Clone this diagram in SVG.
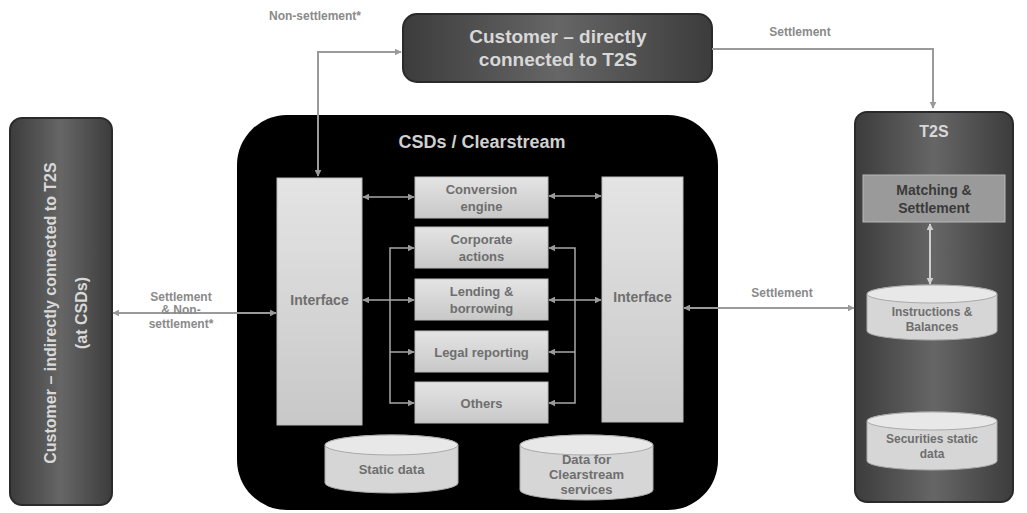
<svg xmlns="http://www.w3.org/2000/svg" width="1027" height="513" viewBox="0 0 1027 513">
<defs>
<linearGradient id="dark" x1="0" y1="0" x2="1" y2="0">
<stop offset="0" stop-color="#3c3c3c"/><stop offset="0.5" stop-color="#666"/><stop offset="1" stop-color="#3c3c3c"/>
</linearGradient>
<linearGradient id="light" x1="0" y1="0" x2="0" y2="1">
<stop offset="0" stop-color="#e4e4e4"/><stop offset="1" stop-color="#c8c8c8"/>
</linearGradient>
<marker id="ah" viewBox="0 0 10 10" refX="9" refY="5" markerWidth="7" markerHeight="7" orient="auto-start-reverse" markerUnits="userSpaceOnUse">
<path d="M0,0 L10,5 L0,10 Z" fill="#9a9a9a"/>
</marker>
<marker id="ahw" viewBox="0 0 10 10" refX="9" refY="5" markerWidth="7" markerHeight="7" orient="auto-start-reverse" markerUnits="userSpaceOnUse">
<path d="M0,0 L10,5 L0,10 Z" fill="#cfcfcf"/>
</marker>
</defs>
<style>
text{font-family:"Liberation Sans",Arial,sans-serif;font-weight:bold;text-anchor:middle}
.dk{fill:url(#dark);stroke:#2a2a2a;stroke-width:2}
.lt{fill:url(#light);stroke:#bbb;stroke-width:1}
.cyl{fill:#d6d6d6;stroke:#aaa;stroke-width:1}
.cyltop{fill:#e8e8e8;stroke:#aaa;stroke-width:1}
.wt{fill:#d8d8d8}
.gt{fill:#6e6e6e}
.lbl{fill:#8a8a8a;font-size:12px}
.ln{stroke:#9a9a9a;stroke-width:2;fill:none}
.lni{stroke:#a8a8a8;stroke-width:1.5;fill:none}
</style>

<g id="customer-direct">
<rect class="dk" x="403" y="14" width="309" height="68" rx="14"/>
<text class="wt" x="558" y="43" font-size="19">Customer – directly</text>
<text class="wt" x="558" y="66" font-size="19">connected to T2S</text>
</g>

<g id="customer-indirect">
<rect class="dk" x="10" y="118" width="102" height="387" rx="12"/>
<text class="wt" font-size="16" transform="translate(56,313) rotate(-90)">Customer – indirectly connected to T2S</text>
<text class="wt" font-size="16" transform="translate(87,313) rotate(-90)">(at CSDs)</text>
</g>

<g id="csd">
<rect x="237" y="115" width="481" height="395" rx="50" fill="#000"/>
<text x="482" y="148" font-size="18" fill="#d0d0d0">CSDs / Clearstream</text>
</g>

<g id="interface-left">
<rect class="lt" x="277" y="178" width="85" height="247"/>
<text class="gt" x="319.5" y="305" font-size="14">Interface</text>
</g>
<g id="interface-right">
<rect class="lt" x="602" y="177" width="81" height="245"/>
<text class="gt" x="642.5" y="302" font-size="14">Interface</text>
</g>

<g id="conversion-engine">
<rect class="lt" x="415" y="177" width="133" height="41"/>
<text class="gt" x="481.5" y="194" font-size="13">Conversion</text>
<text class="gt" x="481.5" y="211" font-size="13">engine</text>
</g>
<g id="corporate-actions">
<rect class="lt" x="415" y="227" width="133" height="41"/>
<text class="gt" x="481.5" y="244" font-size="13">Corporate</text>
<text class="gt" x="481.5" y="261" font-size="13">actions</text>
</g>
<g id="lending-borrowing">
<rect class="lt" x="415" y="279" width="133" height="41"/>
<text class="gt" x="481.5" y="296" font-size="13">Lending &amp;</text>
<text class="gt" x="481.5" y="313" font-size="13">borrowing</text>
</g>
<g id="legal-reporting">
<rect class="lt" x="415" y="331" width="133" height="41"/>
<text class="gt" x="481.5" y="357" font-size="13">Legal reporting</text>
</g>
<g id="others">
<rect class="lt" x="415" y="382" width="133" height="41"/>
<text class="gt" x="481.5" y="408" font-size="13">Others</text>
</g>

<g id="static-data">
<path class="cyl" d="M325,445 A66.5,10 0 0 1 458,445 V483 A66.5,10 0 0 1 325,483 Z"/>
<ellipse class="cyltop" cx="391.5" cy="445" rx="66.5" ry="10"/>
<text class="gt" x="391.5" y="474" font-size="13">Static data</text>
</g>
<g id="data-clearstream">
<path class="cyl" d="M520,445 A66.5,10 0 0 1 653,445 V490 A66.5,10 0 0 1 520,490 Z"/>
<ellipse class="cyltop" cx="586.5" cy="445" rx="66.5" ry="10"/>
<text class="gt" x="586.5" y="464" font-size="13">Data for</text>
<text class="gt" x="586.5" y="479" font-size="13">Clearstream</text>
<text class="gt" x="586.5" y="494" font-size="13">services</text>
</g>

<g id="t2s">
<rect class="dk" x="855" y="112" width="158" height="390" rx="12"/>
<text class="wt" x="934" y="137" font-size="16">T2S</text>
</g>
<g id="matching-settlement">
<rect x="863" y="175" width="142" height="47" fill="#9a9a9a" stroke="#b8b8b8" stroke-width="1"/>
<text x="934" y="195" font-size="14" fill="#3a3a3a">Matching &amp;</text>
<text x="934" y="213" font-size="14" fill="#3a3a3a">Settlement</text>
</g>
<g id="instructions-balances">
<path class="cyl" d="M867,294 A65,9 0 0 1 997,294 V331 A65,9 0 0 1 867,331 Z"/>
<ellipse class="cyltop" cx="932" cy="294" rx="65" ry="9"/>
<text class="gt" x="932" y="316" font-size="12">Instructions &amp;</text>
<text class="gt" x="932" y="331" font-size="12">Balances</text>
</g>
<g id="securities-static-data">
<path class="cyl" d="M867,421 A65,9 0 0 1 997,421 V461 A65,9 0 0 1 867,461 Z"/>
<ellipse class="cyltop" cx="932" cy="421" rx="65" ry="9"/>
<text class="gt" x="932" y="443" font-size="12">Securities static</text>
<text class="gt" x="932" y="458" font-size="12">data</text>
</g>

<g id="connectors">
<path class="ln" d="M401,52 H318 V176" marker-start="url(#ah)" marker-end="url(#ah)"/>
<text class="lbl" x="315" y="20">Non-settlement*</text>
<path class="ln" d="M712,49 H933 V108" marker-end="url(#ah)"/>
<text class="lbl" x="800" y="36">Settlement</text>
<path class="ln" d="M113,313 H276" marker-start="url(#ah)" marker-end="url(#ah)"/>
<text class="lbl" x="181" y="301">Settlement</text>
<text class="lbl" x="181" y="314">&amp; Non-</text>
<text class="lbl" x="181" y="328">settlement*</text>
<path class="ln" d="M684,308 H854" marker-start="url(#ah)" marker-end="url(#ah)"/>
<text class="lbl" x="782" y="297">Settlement</text>
<line x1="930" y1="224" x2="930" y2="284" stroke="#d0d0d0" stroke-width="2" marker-start="url(#ahw)" marker-end="url(#ahw)"/>
<path class="lni" d="M363,197 H414" marker-start="url(#ah)" marker-end="url(#ah)"/>
<path class="lni" d="M549,196 H601" marker-start="url(#ah)" marker-end="url(#ah)"/>
<path class="lni" d="M363,300 H414" marker-start="url(#ah)" marker-end="url(#ah)"/>
<path class="lni" d="M549,300 H601" marker-start="url(#ah)" marker-end="url(#ah)"/>
<path class="lni" d="M414,248 H390 V403 H414" marker-start="url(#ah)" marker-end="url(#ah)"/>
<path class="lni" d="M390,352 H414" marker-end="url(#ah)"/>
<path class="lni" d="M549,248 H575 V403 H549" marker-start="url(#ah)" marker-end="url(#ah)"/>
<path class="lni" d="M575,352 H549" marker-end="url(#ah)"/>
</g>
</svg>
